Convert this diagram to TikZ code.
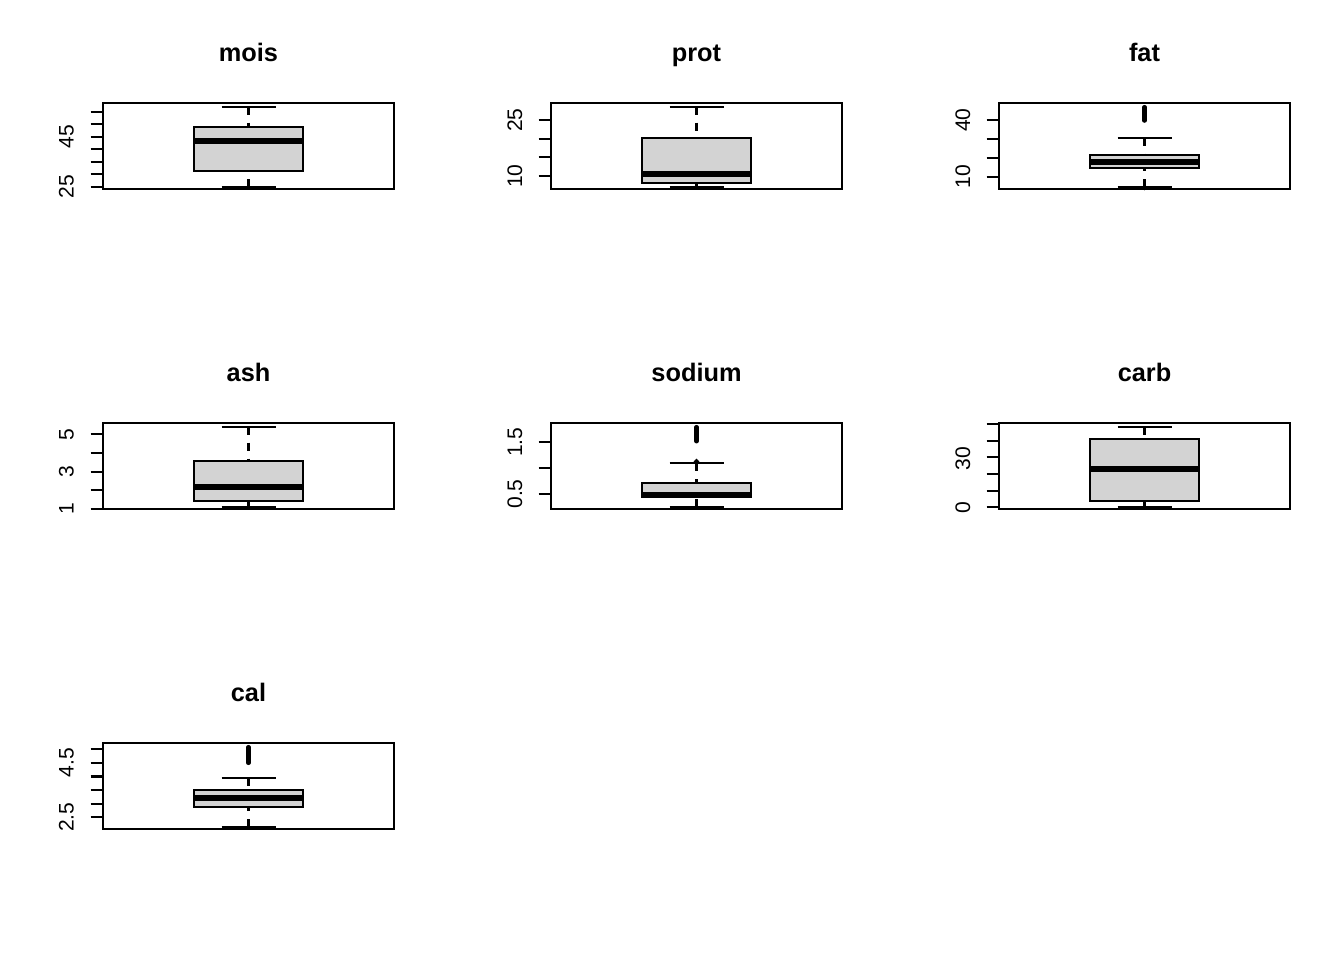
\documentclass[tikz,border=0pt]{standalone}
\usepackage{fontspec}
\setmainfont{Liberation Sans}
\definecolor{boxgray}{HTML}{D3D3D3}
\tikzset{
  plain/.style={line width=1.6pt, line cap=butt, line join=miter},
  whisk/.style={line width=1.6pt, dash pattern=on 6pt off 6pt},
  med/.style={line width=4.5pt, line cap=butt},
  outcol/.style={line width=3.4pt, line cap=round},
  outpt/.style={line width=1.4pt},
  ttl/.style={font=\fontsize{19}{22}\selectfont\bfseries, anchor=base, inner sep=0pt},
  lab/.style={font=\fontsize{15.8}{18}\selectfont, rotate=90, anchor=base, inner sep=0pt},
}
\newcommand{\mybox}[6]{%
  \draw[whisk] (#1,#2) -- (#1,#3);
  \draw[whisk] (#1,#6) -- (#1,#5);
  \draw[plain] (#1-27,#2) -- (#1+27,#2);
  \draw[plain] (#1-27,#6) -- (#1+27,#6);
  \draw[plain, fill=boxgray] (#1-54.5,#3) rectangle (#1+54.5,#5);
  \draw[med] (#1-54.5,#4) -- (#1+54.5,#4);
}
\newcommand{\mytick}[2]{\draw[plain] (#1-12.5,#2) -- (#1,#2);}
\begin{document}
\begin{tikzpicture}[x=0.75pt, y=-0.75pt]
\useasboundingbox[fill=white] (0,0) rectangle (1344,960);

% ---------- mois ----------
\node[ttl] (tmois) at (248.5,61.7) {mois};
\draw[plain] (103,103) rectangle (394,189);
\foreach \v in {0,...,6} {\mytick{103}{186.7-12.5*\v}}
\node[lab] (lmois1) at (73.5,186.7) {25};
\node[lab] (lmois2) at (73.5,136.7) {45};
\mybox{248.5}{106.7}{127}{140.7}{171.3}{186.7}

% ---------- prot ----------
\node[ttl] (tprot) at (696.5,61.7) {prot};
\draw[plain] (551,103) rectangle (842,189);
\foreach \v in {0,...,3} {\mytick{551}{176-18.667*\v}}
\node[lab] (lprot1) at (522,176) {10};
\node[lab] (lprot2) at (522,120) {25};
\mybox{696.5}{106.7}{137.7}{174}{183.3}{186.7}

% ---------- fat ----------
\node[ttl] (tfat) at (1144.5,61.7) {fat};
\draw[plain] (999,103) rectangle (1290,189);
\foreach \v in {0,...,3} {\mytick{999}{176.7-18.9*\v}}
\node[lab] (lfat1) at (970,176.7) {10};
\node[lab] (lfat2) at (970,120) {40};
\mybox{1144.5}{137.7}{155.3}{162}{168}{186.7}
\draw[outcol] (1144.5,107.2) -- (1144.5,120.5);
\draw[outpt] (1144.5,187.4) circle[radius=1.6];

% ---------- ash ----------
\node[ttl] (tash) at (248.5,381.7) {ash};
\draw[plain] (103,423) rectangle (394,509);
\foreach \v in {0,...,4} {\mytick{103}{509-18.675*\v}}
\node[lab] (lash1) at (73.5,509) {1};
\node[lab] (lash2) at (73.5,471.7) {3};
\node[lab] (lash3) at (73.5,434.3) {5};
\mybox{248.5}{426.7}{461}{487}{500.7}{506.7}

% ---------- sodium ----------
\node[ttl] (tsodium) at (696.5,381.7) {sodium};
\draw[plain] (551,423) rectangle (842,509);
\foreach \v in {0,...,2} {\mytick{551}{494-25.85*\v}}
\node[lab] (lsod1) at (522,494) {0.5};
\node[lab] (lsod2) at (522,442.3) {1.5};
\mybox{696.5}{463.3}{483}{494.5}{497.3}{506.7}
\draw[outcol] (696.5,427.2) -- (696.5,441.2);
\draw[outpt] (696.5,461.5) circle[radius=1.6];

% ---------- carb ----------
\node[ttl] (tcarb) at (1144.5,381.7) {carb};
\draw[plain] (999,423) rectangle (1290,509);
\foreach \v in {0,...,5} {\mytick{999}{507.3-16.66*\v}}
\node[lab] (lcarb1) at (970,507.3) {0};
\node[lab] (lcarb2) at (970,458.3) {30};
\mybox{1144.5}{426.7}{439.3}{468.7}{501}{506.7}

% ---------- cal ----------
\node[ttl] (tcal) at (248.5,701.7) {cal};
\draw[plain] (103,743) rectangle (394,829);
\foreach \v in {0,...,5} {\mytick{103}{817.3-13.6*\v}}
\node[lab] (lcal1) at (73.5,817.3) {2.5};
\node[lab] (lcal2) at (73.5,762.9) {4.5};
\mybox{248.5}{777.7}{790.3}{797.7}{806.7}{826.7}
\draw[outcol] (248.5,747.2) -- (248.5,762.8);
\end{tikzpicture}
\end{document}
